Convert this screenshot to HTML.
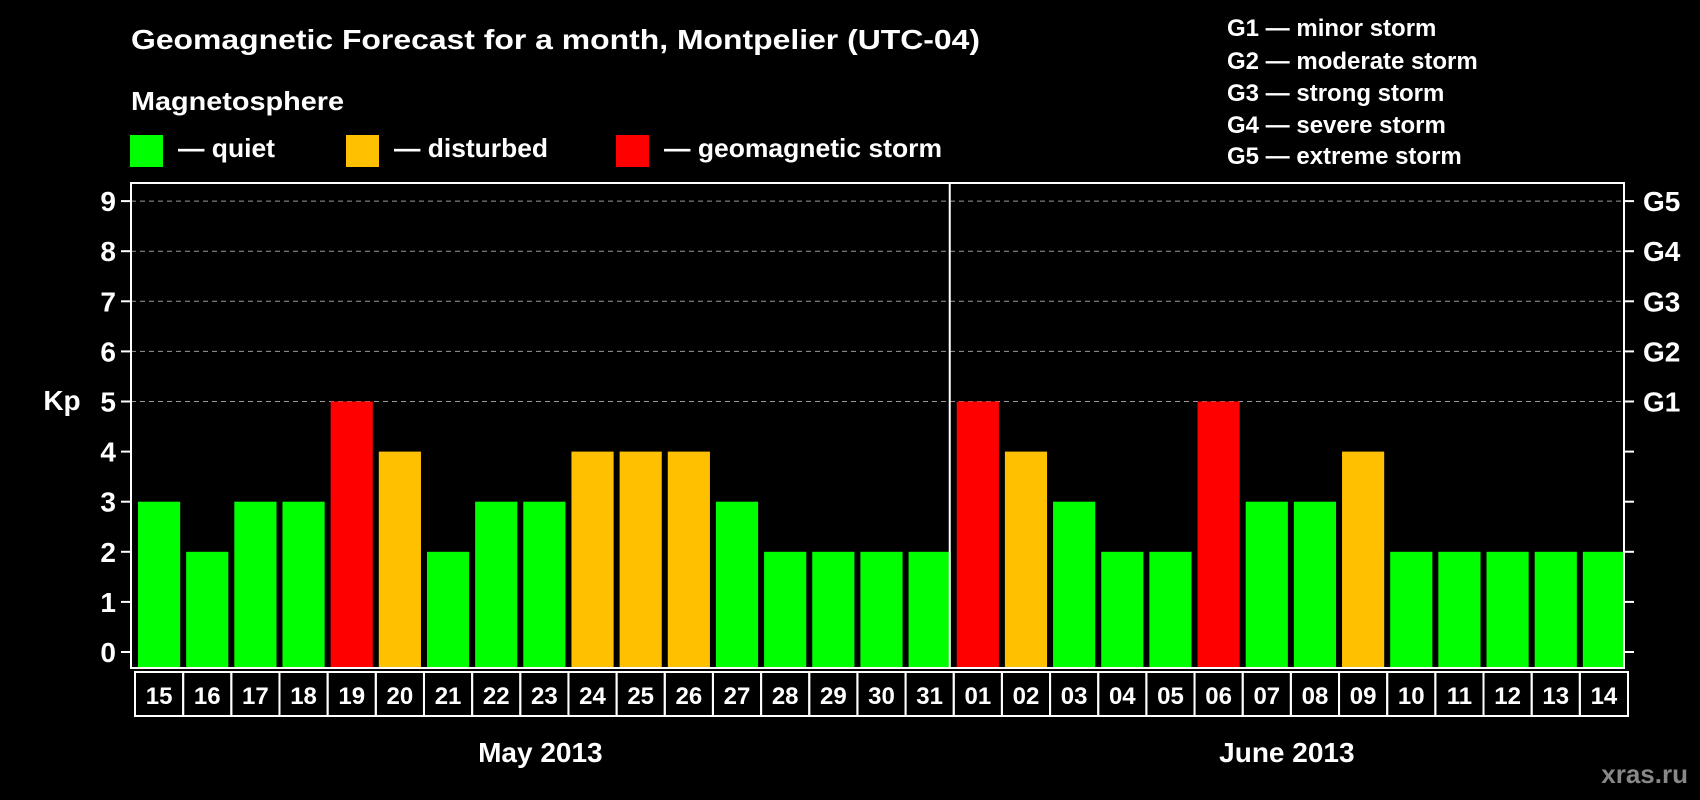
<!DOCTYPE html>
<html><head><meta charset="utf-8"><style>
html,body{margin:0;padding:0;background:#000;}
svg{display:block;font-family:"Liberation Sans",sans-serif;font-weight:bold;}
</style></head><body>
<svg id="chart" width="1700" height="800" viewBox="0 0 1700 800" xmlns="http://www.w3.org/2000/svg">
<rect width="1700" height="800" fill="#000"/>
<text x="131" y="49" font-size="28" fill="#fff" textLength="849" lengthAdjust="spacingAndGlyphs">Geomagnetic Forecast for a month, Montpelier (UTC-04)</text>
<text x="131" y="110" font-size="26" fill="#fff" textLength="213" lengthAdjust="spacingAndGlyphs">Magnetosphere</text>
<g><rect x="130" y="135" width="33" height="32" fill="#00ff00"/><text x="178" y="157" font-size="26" fill="#fff" textLength="97" lengthAdjust="spacingAndGlyphs">— quiet</text></g>
<g><rect x="346" y="135" width="33" height="32" fill="#ffc000"/><text x="394" y="157" font-size="26" fill="#fff" textLength="154" lengthAdjust="spacingAndGlyphs">— disturbed</text></g>
<g><rect x="616" y="135" width="33" height="32" fill="#ff0000"/><text x="664" y="157" font-size="26" fill="#fff" textLength="278" lengthAdjust="spacingAndGlyphs">— geomagnetic storm</text></g>
<g font-size="24" fill="#fff">
<text x="1227" y="36">G1 — minor storm</text>
<text x="1227" y="69">G2 — moderate storm</text>
<text x="1227" y="101">G3 — strong storm</text>
<text x="1227" y="133">G4 — severe storm</text>
<text x="1227" y="164">G5 — extreme storm</text>
</g>
<text x="1688" y="783" font-size="26" fill="#888" text-anchor="end">xras.ru</text>
<text x="62" y="410" font-size="28" fill="#fff" text-anchor="middle">Kp</text>
<g id="plot"></g>
</svg>
<script>
const days = ["15","16","17","18","19","20","21","22","23","24","25","26","27","28","29","30","31","01","02","03","04","05","06","07","08","09","10","11","12","13","14"];
const kpValues = [3,2,3,3,5,4,2,3,3,4,4,4,3,2,2,2,2,5,4,3,2,2,5,3,3,4,2,2,2,2,2];
const yTicks = [0,1,2,3,4,5,6,7,8,9];
const gLabels = ["G1","G2","G3","G4","G5"];
const months = ["May 2013","June 2013"];
const monthSplit = 17;

const NS="http://www.w3.org/2000/svg";
const L=131,R=1624,T=183,B=668;
const y0=652, unit=50.1;
const step=(R-L)/days.length;
const ys=v=>y0-v*unit;
const xs=i=>L+i*step;
const g=document.getElementById('plot');
function mk(t,a,p){const e=document.createElementNS(NS,t);for(const k in a)e.setAttribute(k,a[k]);(p||g).appendChild(e);return e;}
function color(v){return v>=5?"#ff0000":v>=4?"#ffc000":"#00ff00";}

// gridlines
yTicks.forEach(v=>{
  if(v>=5){const l=mk('line',{x1:L,x2:R,y1:ys(v),y2:ys(v),stroke:'#999','stroke-width':1,'stroke-dasharray':'5,4'});
  
  }
  const tk=mk('line',{x1:L-10,x2:L,y1:ys(v),y2:ys(v),stroke:'#fff','stroke-width':2});
  
  
  const tr=mk('line',{x1:R,x2:R+10,y1:ys(v),y2:ys(v),stroke:'#fff','stroke-width':2});
  
  
  const t=mk('text',{x:116,y:ys(v)+10,'font-size':28,fill:'#fff','text-anchor':'end'});
  t.textContent=v;
  
  
});
gLabels.forEach((s,i)=>{
  const t=mk('text',{x:1643,y:ys(5+i)+10,'font-size':28,fill:'#fff'});
  t.textContent=s;
  
  
});
// bars
kpValues.forEach((v,i)=>{
  const r=mk('rect',{x:xs(i)+7,y:ys(v),width:step-6,height:B-ys(v),fill:color(v)});
  
  
});
// frame
const fr=mk('rect',{x:L,y:T,width:R-L,height:B-T,fill:'none',stroke:'#fff','stroke-width':2});


const dv=mk('line',{x1:xs(monthSplit),x2:xs(monthSplit),y1:T,y2:B,stroke:'#fff','stroke-width':2});


// date cells
days.forEach((d,i)=>{
  const c=mk('rect',{x:xs(i)+4,y:B+4,width:step,height:44,fill:'none',stroke:'#fff','stroke-width':2});
  
  
  const t=mk('text',{x:xs(i)+4+step/2,y:B+36,'font-size':24,fill:'#fff','text-anchor':'middle'});
  t.textContent=d;
  
  
});
// months
[[0,monthSplit],[monthSplit,days.length]].forEach((rg,i)=>{
  const t=mk('text',{x:(xs(rg[0])+xs(rg[1]))/2,y:762,'font-size':28,fill:'#fff','text-anchor':'middle'});
  t.textContent=months[i];
  
  
});
</script>
</body></html>
